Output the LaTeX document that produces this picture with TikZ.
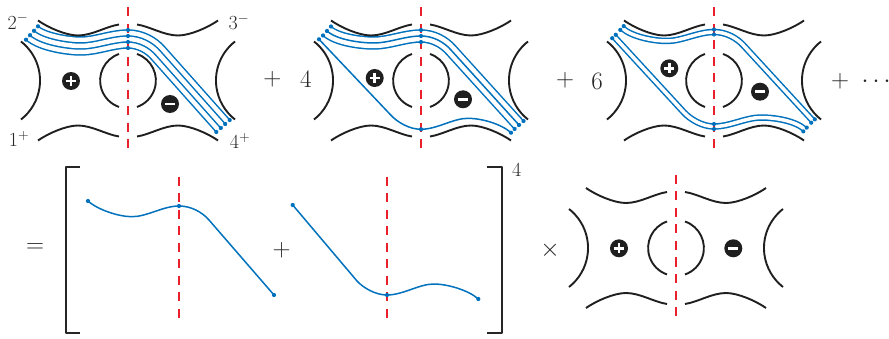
\RequirePackage{fix-cm}
\documentclass[tikz,border=0pt]{standalone}
\definecolor{bl}{RGB}{0,114,189}
\definecolor{rd}{RGB}{232,32,44}
\newcommand\upath[5]{(#1,#2) .. controls ({#1+10},{#2+9}) and (-60,#3) .. (-47,#3) .. controls (-32,#3) and (-16,0) .. (0,0) .. controls (12,0) and (23,6) .. (30,14) -- (#4,#5)}
\newcommand\lpath[5]{(#1,#2) -- (-30,-14) .. controls (-24,-7.5) and (-12,0) .. (0,0) .. controls (16,0) and (32,-#3) .. (47,-#3) .. controls (60,-#3) and ({#4-10},{#5-9}) .. (#4,#5)}
\newcommand\bndone[1]{\draw[bl,line width=1.5pt] #1;}
\newcommand\bndtwo[1]{\draw[bl,line width=6.5pt] #1; \draw[white,line width=3.5pt] #1;}
\newcommand\bndthree[1]{\draw[bl,line width=13.5pt] #1; \draw[white,line width=10.5pt] #1; \draw[bl,line width=1.5pt] #1;}
\newcommand\bndfour[1]{\draw[bl,line width=19.5pt] #1; \draw[white,line width=16.5pt] #1; \draw[bl,line width=7.5pt] #1; \draw[white,line width=4.5pt] #1;}
\tikzset{
 blk/.style={line width=1.9pt,black!88},
 cutline/.style={draw=rd,line width=1.6pt,dash pattern=on 9pt off 7.5pt},
 brk/.style={line width=1.7pt,black!85},
 pants/.pic={
   \foreach \s in {1,-1}{
     \foreach \t in {1,-1}{
       \draw[blk,xscale=\s,yscale=\t] (-90,-60) .. controls (-80,-53) and (-62,-45) .. (-50,-45) .. controls (-36,-45) and (-22,-54) .. (-9,-56);
     }
     \draw[blk,xscale=\s] (-107,-39) arc[start angle=-52,end angle=52,radius=49.5];
     \draw[blk,xscale=\s] (-9,-26.5) arc[start angle=251,end angle=109,radius=28];
   }
   \draw[cutline] (0,-73) -- (0,73);
 },
 plus/.pic={\fill[black!88] (0,0) circle (9); \draw[white,line width=2.5pt] (-5,0)--(5,0) (0,-5)--(0,5);},
 minus/.pic={\fill[black!88] (0,0) circle (9); \draw[white,line width=2.7pt] (-5,0)--(5,0);},
 op/.style={font=\fontsize{25}{25}\selectfont,text=black!85,inner sep=0pt},
 lab/.style={font=\fontsize{20}{20}\selectfont,text=black!85,inner sep=0pt},
 bdot/.style={fill=bl}
}
\begin{document}
\begin{tikzpicture}[x=1pt,y=-1pt,line join=round]
\useasboundingbox (0,0) rectangle (889,339);
% blue bundles
\begin{scope}[shift={(128,39)}]
 \bndfour{\upath{-96}{-6}{7}{95}{87}}
\end{scope}
\begin{scope}[shift={(421,36)}]
 \bndthree{\upath{-94}{-5}{7}{98}{89}}
\end{scope}
\begin{scope}[shift={(421,129.3)}]
 \bndone{\lpath{-102}{-90}{11}{90}{3.4}}
\end{scope}
\begin{scope}[shift={(714,32)}]
 \bndtwo{\upath{-92}{-4}{9}{99}{89}}
\end{scope}
\begin{scope}[shift={(714,126.5)}]
 \bndtwo{\lpath{-100}{-90}{9}{91}{3}}
\end{scope}
\begin{scope}[shift={(179,206)}]
 \bndone{\upath{-91}{-5}{10.7}{95}{89}}
\end{scope}
\begin{scope}[shift={(387,295)}]
 \bndone{\lpath{-94.3}{-90}{11}{91.3}{4}}
\end{scope}
% surfaces
\pic at (128,80.5) {pants};
\pic at (421,80.5) {pants};
\pic at (714,80.5) {pants};
\pic at (676,248) {pants};
\draw[cutline] (179,176.7) -- (179,323);
\draw[cutline] (387,176.7) -- (387,323);
% signs
\pic at (71,81) {plus};      \pic at (170,104) {minus};
\pic at (374.7,78) {plus};   \pic at (463,99.3) {minus};
\pic at (669.3,68.3) {plus}; \pic at (760,91.7) {minus};
\pic at (619,248.3) {plus};  \pic at (733.3,248.3) {minus};
% dots
\foreach \p in {(38.0,26.3),(34.0,30.8),(30.0,35.2),(26.0,39.7),(128,30),(128,36),(128,42),(128,48),(229.7,120),(225.2,124),(220.8,128),(216.3,132),
 (331,26.5),(327,31),(323,35.5),(319,39.3),(421,30),(421,36),(421,42),(421,129.3),(523.5,121),(519,125),(514.6,129),(511,132.7),
 (623.7,26.1),(620.3,29.9),(615.8,34.8),(612.2,38.2),(714,29.5),(714,34.5),(714,124),(714,129),(814.8,119.3),(811.2,122.7),(806.7,127.6),(803.3,131.4),
 (88,201),(179,206),(274,295),(292.7,205),(387,295),(478.3,299)}
 \fill[bdot] \p circle (2.1);
% brackets
\draw[brk] (80,166.7) -- (66,166.7) -- (66,333.3) -- (80,333.3);
\draw[brk] (487.3,166.7) -- (501.7,166.7) -- (501.7,333.3) -- (487.3,333.3);
% texts
\node[lab] (t2) at (18,21.5) {$2^-$};
\node[lab] (t3) at (239,22) {$3^-$};
\node[lab] (t1) at (19,139) {$1^+$};
\node[lab] (t4) at (240,141) {$4^+$};
\node[op] (p1) at (272.3,79.4) {$+$};
\node[op] (c4) at (305.8,79.7) {$4$};
\node[op] (p2) at (565,80.5) {$+$};
\node[op] (c6) at (597,81) {$6$};
\node[op] (p3) at (840,81.5) {$+$};
\node[op] (dts) at (874,81.5) {$\vphantom{+}\cdots$};
\node[op] (eq) at (35,248) {$=$};
\node[op] (p4) at (281.7,250) {$+$};
\node[op] (tm) at (550,250) {$\times$};
\node[lab] (ex) at (516.7,170) {$4$};
\end{tikzpicture}
\end{document}
